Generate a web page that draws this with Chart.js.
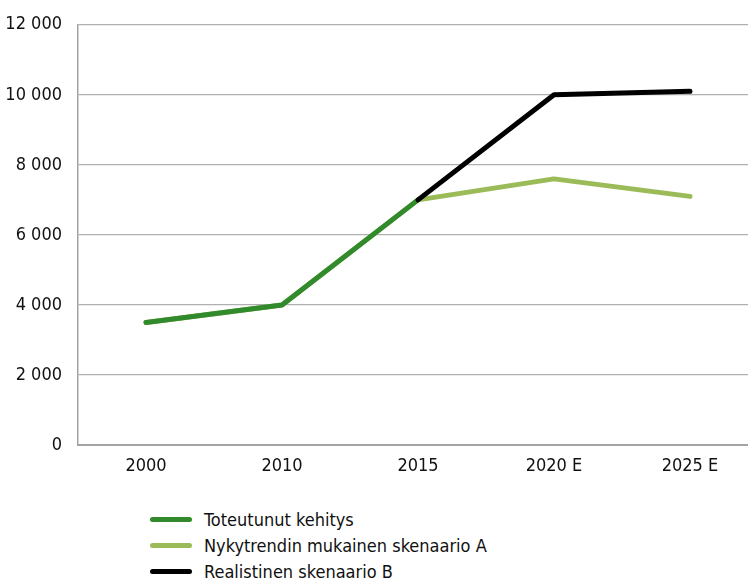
<!DOCTYPE html>
<html>
<head>
<meta charset="utf-8">
<script src="https://cdn.jsdelivr.net/npm/chart.js@4/dist/chart.umd.min.js"></script>
<style>
    html, body { margin: 0; padding: 0; background: #fff; overflow: hidden; }
    body { width: 748px; height: 582px; position: relative; font-family: 'Liberation Sans Narrow', 'DejaVu Sans Condensed', sans-serif; }
    #wrap { position: absolute; left: 0; top: -2px; width: 758px; height: 487px; }
    #legend { position: absolute; left: 150px; top: 506px; }
    .row { display: flex; align-items: center; height: 26px; font-size: 18px; color: #111; }
    .swatch { width: 42px; height: 5px; border-radius: 3px; margin-right: 12px; }
</style>
</head>
<body>
<div id="wrap"><canvas id="chart" width="758" height="487"></canvas></div>
<div id="legend"></div>
<script>
    // categories and series
    const years = ['2000', '2010', '2015', '2020 E', '2025 E'];
    const toteutunut = [3500, 4000, 7000, null, null];
    const skenaarioA = [3500, 4000, 7000, 7600, 7100];
    const skenaarioB = [null, null, 7000, 10000, 10100];
    const yTicks = [0, 2000, 4000, 6000, 8000, 10000, 12000];

    const seriesNames = ['Toteutunut kehitys', 'Nykytrendin mukainen skenaario A', 'Realistinen skenaario B'];
    const seriesColors = ['#318a2c', '#9bbb59', '#000000'];
    const seriesData = [toteutunut, skenaarioA, skenaarioB];
    // lower order is painted on top
    const drawOrder = [1, 2, 0];

    function fmt(v) {
        return String(v).replace(/\B(?=(\d{3})+(?!\d))/g, ' ');
    }

    const font = { family: "'Liberation Sans Narrow', 'DejaVu Sans Condensed', sans-serif", size: 18 };

    new Chart(document.getElementById('chart'), {
        type: 'line',
        data: {
            labels: years,
            datasets: seriesNames.map((name, i) => ({
                label: name,
                data: seriesData[i],
                borderColor: seriesColors[i],
                backgroundColor: seriesColors[i],
                borderWidth: 5,
                borderCapStyle: 'round',
                borderJoinStyle: 'round',
                pointRadius: 0,
                tension: 0,
                spanGaps: false,
                order: drawOrder[i],
            })),
        },
        options: {
            responsive: false,
            animation: false,
            layout: { padding: { top: 19, right: 0, left: 0, bottom: 0 } },
            plugins: { legend: { display: false }, tooltip: { enabled: false } },
            scales: {
                x: {
                    offset: true,
                    grid: { display: false, drawTicks: false },
                    border: { display: true, color: '#a3a3a3', width: 2 },
                    ticks: { color: '#111', font: font, padding: 11, maxRotation: 0 },
                    afterFit: scale => { scale.height = 40; },
                },
                y: {
                    min: 0,
                    max: 12000,
                    afterBuildTicks: scale => { scale.ticks = yTicks.map(v => ({ value: v })); },
                    grid: { color: '#b0b0b0', lineWidth: 1.2, drawTicks: false },
                    border: { display: true, color: '#a3a3a3', width: 1.5 },
                    ticks: { color: '#111', font: font, padding: 16, callback: v => fmt(v) },
                    afterFit: scale => { scale.width = 78; },
                },
            },
        },
    });

    const legend = document.getElementById('legend');
    seriesNames.forEach((name, i) => {
        const row = document.createElement('div');
        row.className = 'row';
        row.innerHTML = `<span class="swatch" style="background:${seriesColors[i]}"></span><span>${name}</span>`;
        legend.appendChild(row);
    });
</script>
</body>
</html>
